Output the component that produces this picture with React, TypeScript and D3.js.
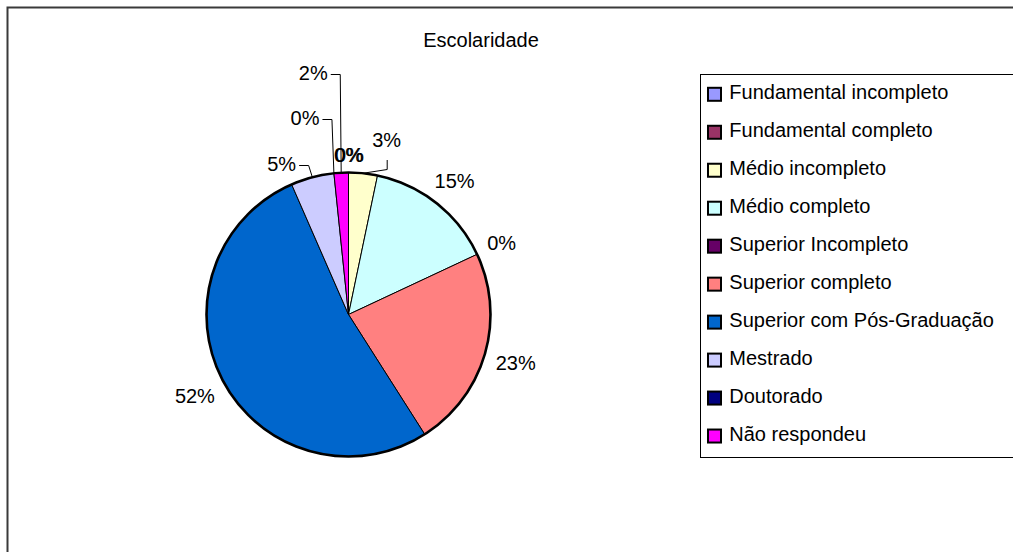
import React from "react";
import * as d3 from "d3";

const title = "Escolaridade";
const categories = [
  "Fundamental incompleto",
  "Fundamental completo",
  "Médio incompleto",
  "Médio completo",
  "Superior Incompleto",
  "Superior completo",
  "Superior com Pós-Graduação",
  "Mestrado",
  "Doutorado",
  "Não respondeu",
];
const counts = [0, 0, 2, 9, 0, 14, 32, 3, 0, 1];
const colors = [
  "#9999FF",
  "#993366",
  "#FFFFCC",
  "#CCFFFF",
  "#660066",
  "#FF8080",
  "#0066CC",
  "#CCCCFF",
  "#000080",
  "#FF00FF",
];

const W = 1013;
const H = 552;
const FONT = "'Liberation Sans', Arial, Helvetica, sans-serif";
const FS = 20;

// pie geometry
const cx = 348.5;
const cy = 314.5;
const R = 142;

// Excel moved these crowded labels and drew leader lines (offset from pie centre)
const moved: Record<number, { dx: number; dy: number; leader: "h" | "v" }> = {
  2: { dx: 38.2, dy: -174.5, leader: "v" },
  7: { dx: -66.8, dy: -150.5, leader: "h" },
  8: { dx: -43.5, dy: -196.5, leader: "h" },
  9: { dx: -35.2, dy: -241.5, leader: "h" },
};

function textW(s: string) {
  // approximate Arial advance widths
  let w = 0;
  for (const ch of s) {
    if (ch === "%") w += 0.889;
    else w += 0.556;
  }
  return w * FS;
}

export default function App() {
  const total = d3.sum(counts);
  const pie = d3
    .pie<number>()
    .sort(null)
    .value((d) => d)
    .startAngle(0)
    .endAngle(2 * Math.PI);
  const arcs = pie(counts);
  const arc = d3.arc<d3.PieArcDatum<number>>().innerRadius(0).outerRadius(R);

  const labels = arcs.map((a, i) => {
    const text = Math.round((a.data / total) * 100) + "%";
    const mid = (a.startAngle + a.endAngle) / 2;
    const w = textW(text);
    const h = 14.3;
    let lx: number;
    let ly: number;
    let leader: string | null = null;
    const m = moved[i];
    if (m) {
      lx = cx + m.dx;
      ly = cy + m.dy;
      const px = cx + R * Math.sin(mid);
      const py = cy - R * Math.cos(mid);
      if (m.leader === "h") {
        const sx = lx + w / 2 + 3;
        const sy = ly + 1.5;
        leader = `M${sx},${sy}H${sx + 9.5}L${px},${py}`;
      } else {
        const sx = lx + 0.5;
        const sy = ly + 20;
        leader = `M${sx},${sy}V${sy + 9.5}L${px},${py}`;
      }
    } else {
      const dist =
        R + 11 + (w / 2) * Math.abs(Math.sin(mid)) + (h / 2) * Math.abs(Math.cos(mid));
      lx = cx + dist * Math.sin(mid) + (i === 1 ? 1 : 0);
      ly = cy - dist * Math.cos(mid);
    }
    return { text, lx, ly, leader, i };
  });

  const legendX = 700.5;
  const legendY = 74.5;
  const rowH = 37.97;
  const firstBase = 99.3;

  return (
    <svg
      width={W}
      height={H}
      style={{ position: "absolute", left: 0, top: 0, background: "#fff" }}
      fontFamily={FONT}
    >
      <rect x={0} y={0} width={W} height={H} fill="#fff" />
      {/* outer chart frame (extends beyond view on right/bottom) */}
      <rect
        x={7.5}
        y={7.5}
        width={W + 20}
        height={H + 20}
        fill="none"
        stroke="#3a3a3a"
        strokeWidth={2}
      />
      <text x={481} y={47} fontSize={FS} textAnchor="middle" fill="#000">
        {title}
      </text>

      <g transform={`translate(${cx},${cy})`}>
        {arcs.map((a, i) =>
          a.data > 0 ? (
            <path
              key={i}
              d={arc(a) || ""}
              fill={colors[i]}
              stroke="#000"
              strokeWidth={1}
            />
          ) : null
        )}
        <circle r={R} fill="none" stroke="#000" strokeWidth={2.6} />
      </g>

      {labels.map((l) => (
        <g key={l.i}>
          {l.leader && (
            <path d={l.leader} fill="none" stroke="#000" strokeWidth={1} />
          )}
          <text
            x={l.lx}
            y={l.ly + 7.2}
            fontSize={FS}
            textAnchor="middle"
            fill="#000"
          >
            {l.text}
          </text>
        </g>
      ))}

      {/* legend */}
      <rect
        x={legendX}
        y={legendY}
        width={W}
        height={383}
        fill="#fff"
        stroke="#000"
        strokeWidth={1}
      />
      {categories.map((c, i) => {
        const base = firstBase + i * rowH;
        return (
          <g key={c}>
            <rect
              x={708}
              y={base - 11.5}
              width={13}
              height={13}
              fill={colors[i]}
              stroke="#000"
              strokeWidth={2}
            />
            <text x={729.3} y={base} fontSize={FS} fill="#000">
              {c}
            </text>
          </g>
        );
      })}
    </svg>
  );
}
